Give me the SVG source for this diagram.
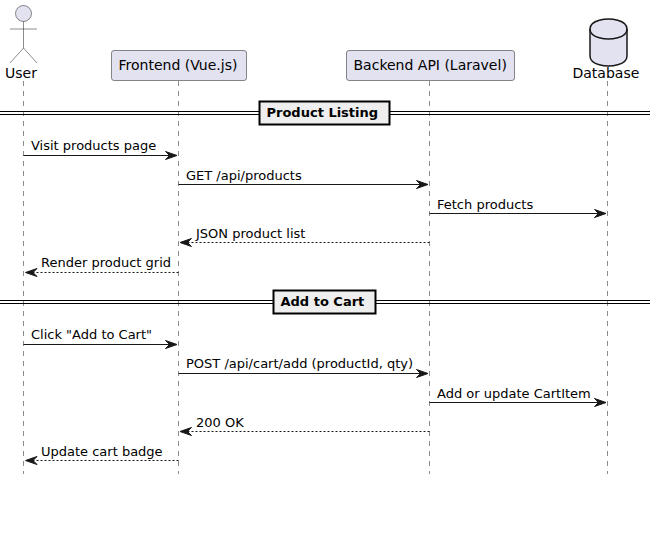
<svg xmlns="http://www.w3.org/2000/svg" width="655" height="558" viewBox="0 0 655 558">
<style>
text{font-family:"DejaVu Sans",sans-serif;font-size:13px;fill:#000}
.name{font-size:14px}
.life{stroke:#181818;stroke-width:.5;stroke-dasharray:5,5;fill:none}
.part{fill:#E2E2F0;stroke:#181818;stroke-width:.5}
.limb{fill:none;stroke:#181818;stroke-width:.5}
.db{fill:#E2E2F0;stroke:#181818;stroke-width:1.5}
.msg{stroke:#181818;stroke-width:1;fill:none}
.ret{stroke-dasharray:2,2}
.head{fill:#181818;stroke:#181818;stroke-width:1}
.div{stroke:#000;stroke-width:1;fill:none}
.box{fill:#EEEEEE;stroke:#000;stroke-width:2}
.b{font-weight:bold}
</style>
<defs>
<path id="ar" class="head" d="M0,0 L-11.500,-4 L-7.500,0 L-11.500,4 Z"/>
<path id="al" class="head" d="M0,0 L11.500,-4 L7.500,0 L11.500,4 Z"/>
</defs>
<rect width="655" height="558" fill="#fff"/>
<g id="lifelines">
<line class="life" x1="23.500" y1="81" x2="23.500" y2="474"/>
<line class="life" x1="178.500" y1="81" x2="178.500" y2="474"/>
<line class="life" x1="429.500" y1="81" x2="429.500" y2="474"/>
<line class="life" x1="607.500" y1="81" x2="607.500" y2="474"/>
</g>
<g id="user">
<circle class="part" cx="23.500" cy="13.500" r="8"/>
<path class="limb" d="M23.500,21.500 V48 M10,29 H37 M23.500,48 L10,63 M23.500,48 L37,63"/>
<text class="name" x="5" y="78">User</text>
</g>
<g id="frontend">
<rect class="part" x="111.500" y="50.500" width="135" height="30" rx="2.500"/>
<text class="name" x="118.500" y="70">Frontend (Vue.js)</text>
</g>
<g id="backend">
<rect class="part" x="346.500" y="50.500" width="168" height="30" rx="2.500"/>
<text class="name" x="353.500" y="70">Backend API (Laravel)</text>
</g>
<g id="database">
<path class="db" d="M590,29 C590,19 608.500,19 608.500,19 C608.500,19 627,19 627,29 V56 C627,66 608.500,66 608.500,66 C608.500,66 590,66 590,56 Z"/>
<path class="db" style="fill:none" d="M590,29 C590,39 608.500,39 608.500,39 C608.500,39 627,39 627,29"/>
<text class="name" x="572.500" y="78">Database</text>
</g>
<g id="divider-product-listing">
<path class="div" d="M0,111.500 H650 M0,114.500 H650"/>
<rect class="box" x="259.500" y="101.500" width="130" height="23"/>
<text class="b" x="266.500" y="117">Product Listing</text>
</g>
<g id="divider-add-to-cart">
<path class="div" d="M0,300.500 H650 M0,303.500 H650"/>
<rect class="box" x="273.500" y="290.500" width="102" height="23"/>
<text class="b" x="280.500" y="306">Add to Cart</text>
</g>
<g id="connectors">
<line class="msg" x1="23.500" y1="155.500" x2="176" y2="155.500"/><use href="#ar" x="177" y="155.500"/>
<line class="msg" x1="178.500" y1="184.500" x2="427" y2="184.500"/><use href="#ar" x="428" y="184.500"/>
<line class="msg" x1="429.500" y1="213.500" x2="605" y2="213.500"/><use href="#ar" x="606" y="213.500"/>
<line class="msg ret" x1="429.500" y1="242.500" x2="182" y2="242.500"/><use href="#al" x="180" y="242.500"/>
<line class="msg ret" x1="178.500" y1="272.500" x2="27" y2="272.500"/><use href="#al" x="25.500" y="272.500"/>
<line class="msg" x1="23.500" y1="344.500" x2="176" y2="344.500"/><use href="#ar" x="177" y="344.500"/>
<line class="msg" x1="178.500" y1="373.500" x2="427" y2="373.500"/><use href="#ar" x="428" y="373.500"/>
<line class="msg" x1="429.500" y1="402.500" x2="605" y2="402.500"/><use href="#ar" x="606" y="402.500"/>
<line class="msg ret" x1="429.500" y1="431.500" x2="182" y2="431.500"/><use href="#al" x="180" y="431.500"/>
<line class="msg ret" x1="178.500" y1="460.500" x2="27" y2="460.500"/><use href="#al" x="25.500" y="460.500"/>
</g>
<g id="labels">
<text x="31" y="150">Visit products page</text>
<text x="186" y="180">GET /api/products</text>
<text x="437" y="209">Fetch products</text>
<text x="196" y="238">JSON product list</text>
<text x="41" y="267">Render product grid</text>
<text x="31" y="339">Click "Add to Cart"</text>
<text x="186" y="368">POST /api/cart/add (productId, qty)</text>
<text x="437" y="398">Add or update CartItem</text>
<text x="196" y="427">200 OK</text>
<text x="41" y="456">Update cart badge</text>
</g>
</svg>
